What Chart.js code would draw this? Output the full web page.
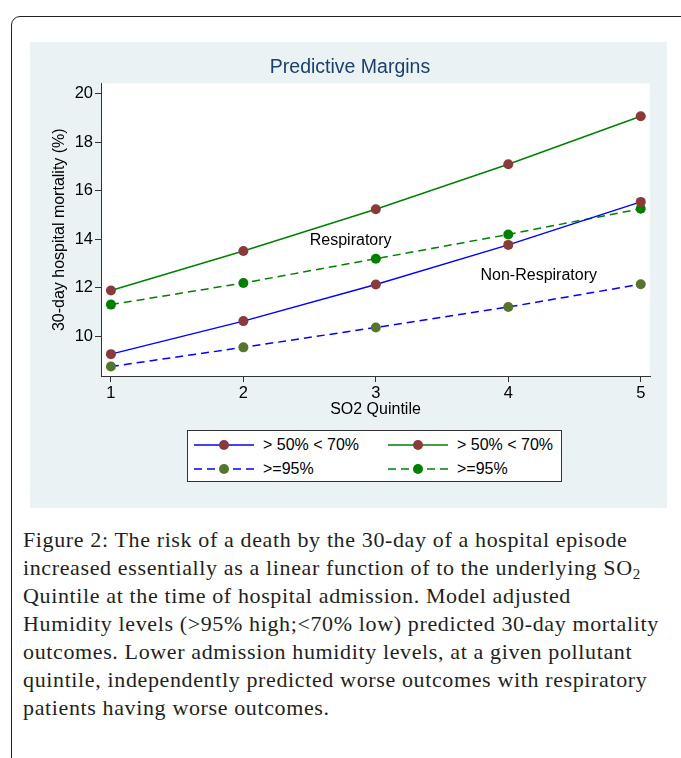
<!DOCTYPE html>
<html><head><meta charset="utf-8">
<script src="https://cdn.jsdelivr.net/npm/chart.js@4"></script>
<style>
html,body{margin:0;padding:0;background:#fff;width:681px;height:758px;overflow:hidden;position:relative;}
#frame{position:absolute;left:11px;top:16px;width:900px;height:1000px;border:1.5px solid #222;border-radius:9px;}
#panel{position:absolute;left:30px;top:42px;width:637px;height:466px;background:#eaf2f3;}
#chart{position:absolute;left:0;top:0;}
#legend{position:absolute;left:157px;top:388px;width:375px;height:52px;background:#fff;border:1px solid #333;box-sizing:border-box;font-family:"Liberation Sans",Arial,sans-serif;font-size:16px;color:#000;}
.item{position:absolute;height:16px;line-height:16px;white-space:nowrap;}
.item svg{position:absolute;left:0;top:2px;}
.item span{position:absolute;top:0;}
#caption{position:absolute;left:23px;top:526px;font-family:"Liberation Serif","DejaVu Serif",serif;font-size:22px;letter-spacing:0.63px;line-height:28px;color:#231f20;white-space:nowrap;}
#caption sub{font-size:15px;line-height:0;vertical-align:-4px;letter-spacing:0;}
</style></head>
<body>
<div id="frame"></div>
<div id="panel">
  <canvas id="chart" width="637" height="466"></canvas>
  <div id="legend"></div>
</div>
<div id="caption">Figure 2: The risk of a death by the 30-day of a hospital episode<br>increased essentially as a linear function of to the underlying SO<sub>2</sub><br>Quintile at the time of hospital admission. Model adjusted<br>Humidity levels (&gt;95% high;&lt;70% low) predicted 30-day mortality<br>outcomes. Lower admission humidity levels, at a given pollutant<br>quintile, independently predicted worse outcomes with respiratory<br>patients having worse outcomes.</div>
<script>
// ---- data ----
const quintiles = [1, 2, 3, 4, 5];
const nonRespLow  = [9.27, 10.63, 12.14, 13.77, 15.54];
const nonRespHigh = [8.76, 9.55, 10.37, 11.21, 12.15];
const respLow     = [11.89, 13.52, 15.24, 17.09, 19.07];
const respHigh    = [11.31, 12.20, 13.20, 14.20, 15.26];
const yTicks = [10, 12, 14, 16, 18, 20];
const seriesLabels = ['> 50% < 70%', '>=95%', '> 50% < 70%', '>=95%'];
const annotationTexts = ['Respiratory', 'Non-Respiratory'];
const annotationX = [2.81, 4.23];
const annotationY = [13.94, 12.50];

const FONT = '"Liberation Sans", Arial, sans-serif';
const BLUE = '#0000ff', GREEN = '#008000', MAROON = '#8b3a3a', OLIVE = '#55752f';
const styles = [
  {line: BLUE,  marker: MAROON, dash: []},
  {line: BLUE,  marker: OLIVE,  dash: [8, 5]},
  {line: GREEN, marker: MAROON, dash: []},
  {line: GREEN, marker: GREEN,  dash: [8, 5]}
];
const seriesValues = [nonRespLow, nonRespHigh, respLow, respHigh];

const datasets = seriesValues.map((vals, i) => ({
  label: seriesLabels[i],
  data: quintiles.map((q, j) => ({x: q, y: vals[j]})),
  borderColor: styles[i].line,
  borderWidth: 1.5,
  borderDash: styles[i].dash,
  pointRadius: 5,
  pointBackgroundColor: styles[i].marker,
  pointBorderColor: styles[i].marker,
  pointBorderWidth: 0,
  tension: 0,
  fill: false
}));

const plotBg = {
  id: 'plotBg',
  beforeDraw(chart) {
    const {ctx, chartArea: a} = chart;
    ctx.save(); ctx.fillStyle = '#fff';
    ctx.fillRect(a.left, a.top, a.right - a.left, a.bottom - a.top);
    ctx.restore();
  }
};
const labelsPlugin = {
  id: 'annot',
  afterDatasetsDraw(chart) {
    const {ctx, scales: {x, y}} = chart;
    ctx.save();
    ctx.font = '16px ' + FONT; ctx.fillStyle = '#000';
    ctx.textAlign = 'center'; ctx.textBaseline = 'middle';
    annotationTexts.forEach((t, i) => ctx.fillText(t, x.getPixelForValue(annotationX[i]), y.getPixelForValue(annotationY[i])));
    ctx.restore();
  }
};

const axisCommon = {
  grid: {display: true, drawOnChartArea: false, drawTicks: true, tickLength: 6, color: '#333', tickWidth: 1},
  border: {display: true, color: '#333', width: 1}
};

new Chart(document.getElementById('chart'), {
  type: 'line',
  data: {datasets},
  plugins: [plotBg, labelsPlugin],
  options: {
    responsive: false, animation: false, devicePixelRatio: 1,
    layout: {padding: {left: 20, right: 17, top: 0, bottom: 89}},
    plugins: {
      legend: {display: false},
      tooltip: {enabled: false},
      title: {display: true, text: 'Predictive Margins', color: '#1c3f6e',
        font: {family: FONT, size: 19.5, weight: 'normal'}, padding: {top: 14, bottom: 4}}
    },
    scales: {
      x: Object.assign({}, axisCommon, {
        type: 'linear', min: 0.925, max: 5.07,
        afterBuildTicks: s => { s.ticks = quintiles.map(v => ({value: v})); },
        afterFit: s => { s.height = 43; },
        ticks: {color: '#000', font: {family: FONT, size: 16.5}, padding: 2, maxRotation: 0, autoSkip: false},
        title: {display: true, text: 'SO2 Quintile', color: '#000', font: {family: FONT, size: 16}, padding: 0}
      }),
      y: Object.assign({}, axisCommon, {
        type: 'linear', min: 8.37, max: 20.42,
        afterBuildTicks: s => { s.ticks = yTicks.map(v => ({value: v})); },
        afterFit: s => { s.width = 51; },
        ticks: {color: '#000', font: {family: FONT, size: 16.5}, padding: 2},
        title: {display: true, text: '30-day hospital mortality (%)', color: '#000', font: {family: FONT, size: 16}, padding: 0}
      })
    }
  }
});

// ---- legend (HTML, text kept as text) ----
const legendPos = [[6, 6], [6, 30], [200, 6], [200, 30]];
const legend = document.getElementById('legend');
datasets.forEach((d, i) => {
  const st = styles[i];
  const item = document.createElement('div');
  item.className = 'item';
  item.style.left = legendPos[i][0] + 'px';
  item.style.top = legendPos[i][1] + 'px';
  const dash = st.dash.length ? ' stroke-dasharray="' + st.dash.join(' ') + '"' : '';
  item.innerHTML = '<svg width="60" height="12"><line x1="0" y1="6" x2="60" y2="6" stroke="' + st.line + '" stroke-width="1.5"' + dash + '/><circle cx="30" cy="6" r="5" fill="' + st.marker + '"/></svg><span style="left:69px">' + d.label.replace(/</g, '&lt;').replace(/>/g, '&gt;') + '</span>';
  legend.appendChild(item);
});
</script>
</body></html>
